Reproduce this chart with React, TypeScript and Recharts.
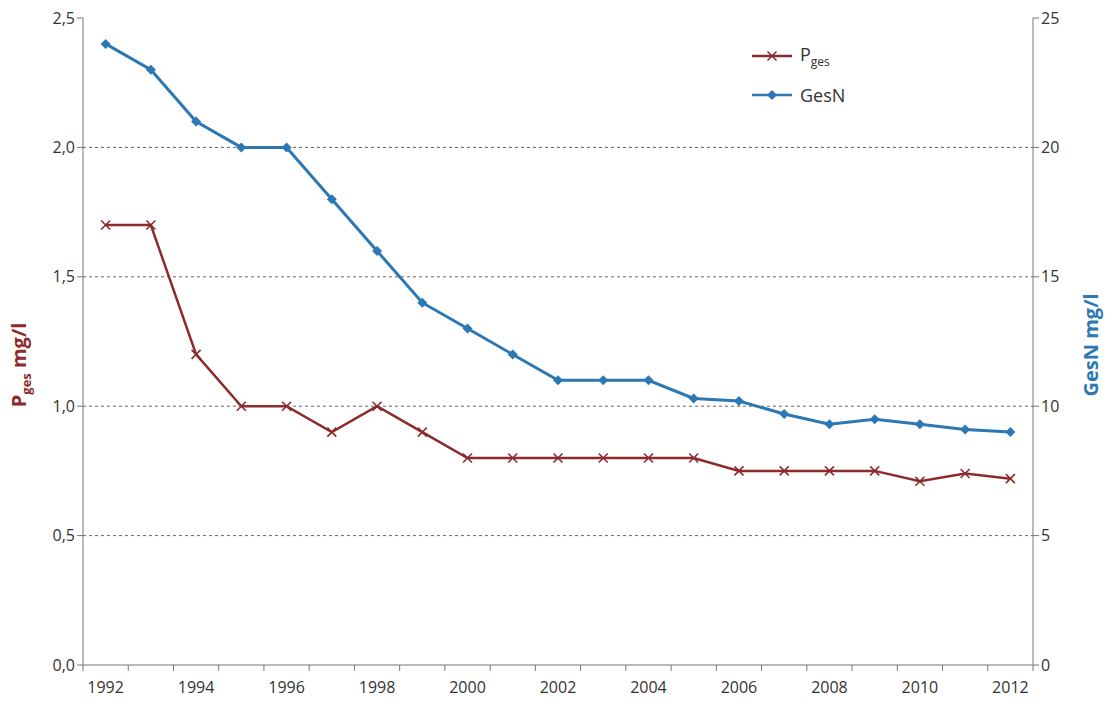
import React from 'react';
import { ComposedChart, Line, XAxis, YAxis, CartesianGrid, Label } from 'recharts';

const years = ['1992','1993','1994','1995','1996','1997','1998','1999','2000','2001','2002','2003','2004','2005','2006','2007','2008','2009','2010','2011','2012'];
const pges = [1.7,1.7,1.2,1.0,1.0,0.9,1.0,0.9,0.8,0.8,0.8,0.8,0.8,0.8,0.75,0.75,0.75,0.75,0.71,0.74,0.72];
const gesN = [24,23,21,20,20,18,16,14,13,12,11,11,11,10.3,10.2,9.7,9.3,9.5,9.3,9.1,9.0];
const leftTicks = [0,0.5,1.0,1.5,2.0,2.5];
const rightTicks = [0,5,10,15,20,25];

const data = years.map((y, i) => ({ year: y, p: pges[i], n: gesN[i] }));
const RED = '#8B2B2B';
const BLUE = '#2B78B5';
const FONT = 'Open Sans, sans-serif';
const HALF = 950 / 21 / 2;

const XDot = (props: any) => {
  const { cx, cy } = props;
  if (cx == null) return null;
  const s = 4.5;
  return <g stroke={RED} strokeWidth={1.6}><line x1={cx-s} y1={cy-s} x2={cx+s} y2={cy+s}/><line x1={cx-s} y1={cy+s} x2={cx+s} y2={cy-s}/></g>;
};
const DDot = (props: any) => {
  const { cx, cy } = props;
  if (cx == null) return null;
  const s = 5;
  return <path d={`M${cx},${cy-s}L${cx+s},${cy}L${cx},${cy+s}L${cx-s},${cy}Z`} fill={BLUE} />;
};

const XTick = (props: any) => {
  const { x, y, payload, index } = props;
  const even = parseInt(payload.value) % 2 === 0;
  return (
    <g>
      <line x1={x-HALF} y1={y-8} x2={x-HALF} y2={y-2} stroke="#777" />
      {index === 20 && <line x1={x+HALF} y1={y-8} x2={x+HALF} y2={y-2} stroke="#777" />}
      {even && <text x={x} y={y+20} textAnchor="middle" fontSize={16} fill="#333" fontFamily={FONT}>{payload.value}</text>}
    </g>
  );
};

const fmt = (v: number) => v.toFixed(1).replace('.', ',');

const LegendBox = () => (
  <div style={{ position: 'absolute', left: 752, top: 40, fontFamily: FONT, fontSize: 18, color: '#333' }}>
    <div style={{ display: 'flex', alignItems: 'center', height: 32 }}>
      <svg width={40} height={20}><line x1={0} y1={10} x2={40} y2={10} stroke={RED} strokeWidth={2.5}/><XDot cx={20} cy={10}/></svg>
      <span style={{ marginLeft: 8 }}>P<sub style={{ fontSize: 12 }}>ges</sub></span>
    </div>
    <div style={{ display: 'flex', alignItems: 'center', height: 32, marginTop: 7 }}>
      <svg width={40} height={20}><line x1={0} y1={10} x2={40} y2={10} stroke={BLUE} strokeWidth={2.5}/><DDot cx={20} cy={10}/></svg>
      <span style={{ marginLeft: 8 }}>GesN</span>
    </div>
  </div>
);

export default function App() {
  return (
    <div style={{ position: 'absolute', left: 0, top: 0, width: 1112, height: 702, background: '#fff' }}>
      <ComposedChart width={1112} height={702} data={data} margin={{ top: 18, right: 29, bottom: 7, left: 33 }}>
        <CartesianGrid vertical={false} stroke="#666" strokeDasharray="3 3"
          horizontalCoordinatesGenerator={() => [0.5, 1.0, 1.5, 2.0].map(v => 18 + 647 * (1 - v / 2.5))} />
        <XAxis dataKey="year" interval={0} tickLine={false} tick={<XTick />} stroke="#777" height={30} padding={{ left: HALF, right: HALF }} />
        <YAxis yAxisId="l" domain={[0, 2.5]} ticks={leftTicks} tickFormatter={fmt} width={50} stroke="#777" tickSize={6}
          tick={{ fill: '#333', fontSize: 16, fontFamily: FONT }}>
          <Label content={() => (
            <text transform="translate(26,365) rotate(-90)" textAnchor="middle" fill={RED} fontSize={20} fontWeight="bold" fontFamily={FONT}>
              P<tspan fontSize={13} dy={5}>ges</tspan><tspan dy={-5}> mg/l</tspan>
            </text>
          )} />
        </YAxis>
        <YAxis yAxisId="r" orientation="right" domain={[0, 25]} ticks={rightTicks} width={50} stroke="#777" tickSize={6}
          tick={{ fill: '#333', fontSize: 16, fontFamily: FONT }}>
          <Label content={() => (
            <text transform="translate(1098,345) rotate(-90)" textAnchor="middle" fill={BLUE} fontSize={20} fontWeight="bold" fontFamily={FONT}>GesN mg/l</text>
          )} />
        </YAxis>
        <Line yAxisId="l" dataKey="p" stroke={RED} strokeWidth={2.5} dot={<XDot />} isAnimationActive={false} />
        <Line yAxisId="r" dataKey="n" stroke={BLUE} strokeWidth={3} dot={<DDot />} isAnimationActive={false} />
      </ComposedChart>
      <LegendBox />
    </div>
  );
}
